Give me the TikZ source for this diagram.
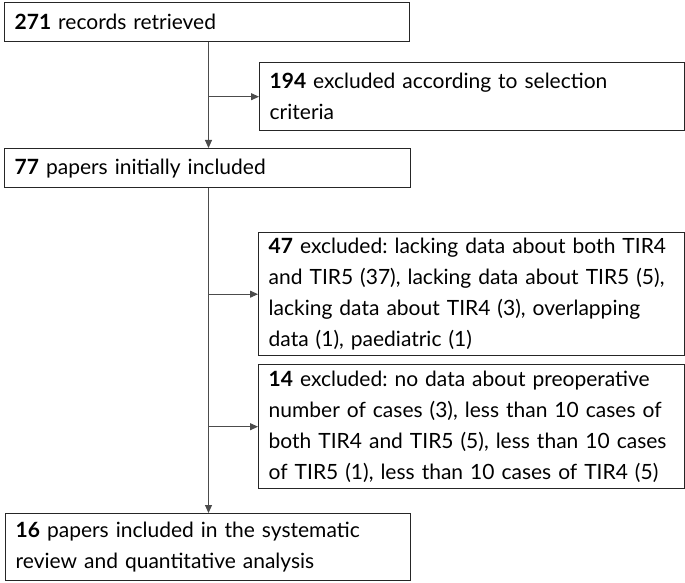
\documentclass[tikz,border=0pt]{standalone}
\usepackage{fontspec}
\setmainfont{Lato}
\usetikzlibrary{arrows.meta}
\newcommand{\myline}[1]{\mbox{#1}}
\begin{document}
\frenchspacing
\begin{tikzpicture}[x=1pt,y=1pt,
  box/.style={draw=black!85, line width=1.4pt, anchor=north west, inner xsep=10pt, inner ysep=0pt,
    align=left, font=\fontsize{21}{31}\selectfont},
  conn/.style={draw=black!70, line width=1pt},
  arr/.style={conn, -{Triangle[length=8pt,width=7pt]}}]
\useasboundingbox (0,0) rectangle (685,-583);
\node[box, minimum width=405pt, minimum height=39pt, text width=385pt] (b1) at (4,-2) {\myline{\textbf{271} records retrieved}};
\node[box, minimum width=425pt, minimum height=68pt, text width=405pt] (b2) at (259,-62) {\myline{\textbf{194} excluded according to selection}\\\myline{criteria}};
\node[box, minimum width=406pt, minimum height=39pt, text width=386pt] (b3) at (4,-148) {\myline{\textbf{77} papers initially included}};
\node[box, minimum width=426pt, minimum height=123pt, text width=406pt] (b4) at (258,-232) {\myline{\textbf{47} excluded: lacking data about both TIR4}\\\myline{and TIR5 (37), lacking data about TIR5 (5),}\\\myline{lacking data about TIR4 (3), overlapping}\\\myline{data (1), paediatric (1)}};
\node[box, minimum width=426pt, minimum height=124pt, text width=406pt] (b5) at (258,-364) {\myline{\textbf{14} excluded: no data about preoperative}\\\myline{number of cases (3), less than 10 cases of}\\\myline{both TIR4 and TIR5 (5), less than 10 cases}\\\myline{of TIR5 (1), less than 10 cases of TIR4 (5)}};
\node[box, minimum width=405pt, minimum height=67pt, text width=385pt] (b6) at (5,-513) {\myline{\textbf{16} papers included in the systematic}\\\myline{review and quantitative analysis}};
\coordinate (spine) at (208.5,0);
\draw[arr] (b1.south -| spine) -- (b3.north -| spine);
\draw[arr] (b2.west -| spine) -- (b2.west);
\draw[arr] (b3.south -| spine) -- (b6.north -| spine);
\draw[arr] (b4.west -| spine) -- (b4.west);
\draw[arr] (b5.west -| spine) -- (b5.west);
\end{tikzpicture}
\end{document}
